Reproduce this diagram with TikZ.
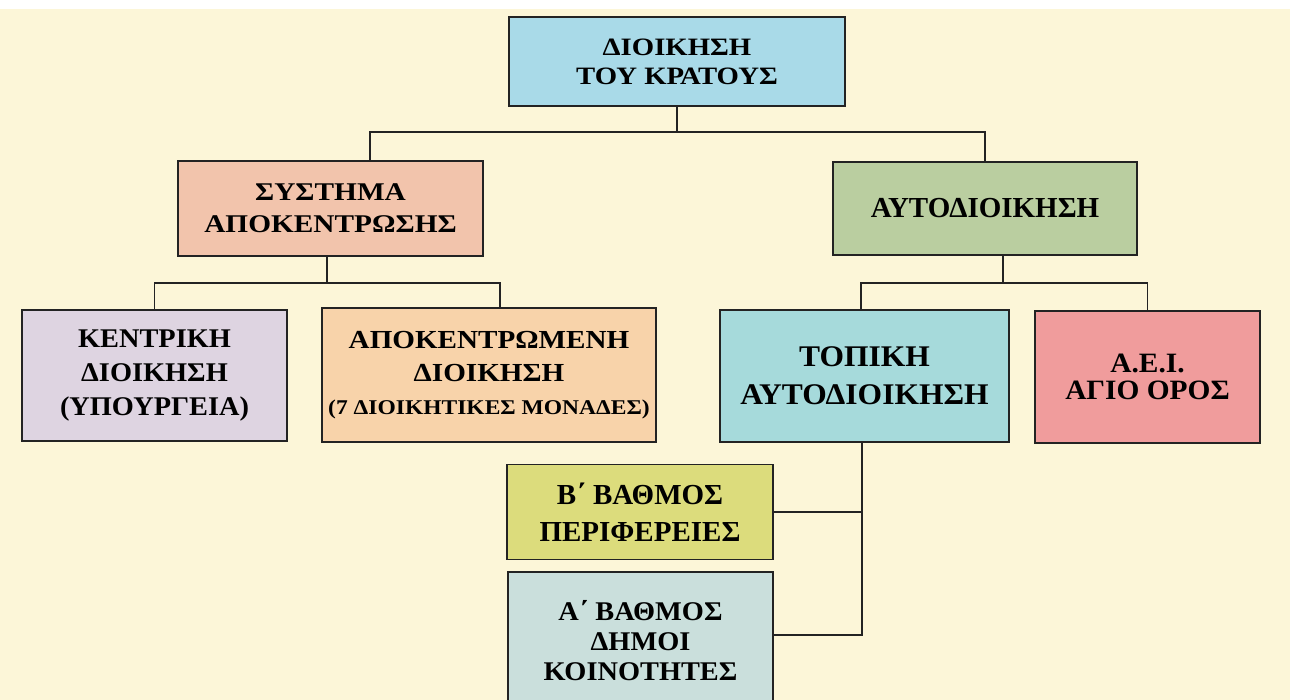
\documentclass[tikz,border=0pt]{standalone}
\usepackage{fontspec}
\setmainfont{Liberation Serif}
\newfontfamily\sfifteen{Liberation Serif}[FakeStretch=1.15]
\newfontfamily\stwelve{Liberation Serif}[FakeStretch=1.12]
\newfontfamily\sfive{Liberation Serif}[FakeStretch=1.05]
\newfontfamily\szero{Liberation Serif}
\definecolor{bgcream}{RGB}{252,246,216}
\definecolor{ctop}{RGB}{169,218,232}
\definecolor{csys}{RGB}{242,196,172}
\definecolor{cauto}{RGB}{186,206,160}
\definecolor{ckent}{RGB}{222,212,225}
\definecolor{capok}{RGB}{248,211,170}
\definecolor{ctopi}{RGB}{166,218,219}
\definecolor{caei}{RGB}{240,156,156}
\definecolor{cbv}{RGB}{220,220,124}
\definecolor{cav}{RGB}{202,223,220}
\definecolor{edge}{RGB}{35,35,35}
\tikzset{
  box/.style={draw=edge, line width=1.9pt, rectangle, inner sep=0pt, align=center, text=black},
  link/.style={draw=edge, line width=1.8pt},
}
\newcommand{\fs}[3]{#1\fontsize{#2}{#3}\selectfont\bfseries}
\begin{document}
\begin{tikzpicture}[x=1pt,y=-1pt]
\useasboundingbox (0,0) rectangle (1290,700);
\fill[bgcream] (0,0) rectangle (1290,700);
\fill[white] (0,0) rectangle (1290,9);
\begin{scope}
\clip (0,0) rectangle (1290,700);
\node[box, fill=ctop, minimum width=336pt, minimum height=89pt, font=\fs{\sfifteen}{25}{29}] (top) at (677,61.5) {ΔΙΟΙΚΗΣΗ\\ΤΟΥ ΚΡΑΤΟΥΣ};
\node[box, fill=csys, minimum width=305pt, minimum height=95pt, font=\fs{\sfifteen}{25.5}{32}] (sys) at (330.5,208.5) {ΣΥΣΤΗΜΑ\\ΑΠΟΚΕΝΤΡΩΣΗΣ};
\node[box, fill=cauto, minimum width=304pt, minimum height=93pt, font=\fs{\szero}{29}{34}] (auto) at (985,208.5) {ΑΥΤΟΔΙΟΙΚΗΣΗ};
\node[box, fill=ckent, minimum width=265pt, minimum height=131pt, font=\fs{\sfive}{27}{34}] (kent) at (154.5,375.5) {ΚΕΝΤΡΙΚΗ\\ΔΙΟΙΚΗΣΗ\\(ΥΠΟΥΡΓΕΙΑ)};
\node[box, fill=capok, minimum width=334pt, minimum height=134pt, font=\fs{\stwelve}{26}{33}] (apok) at (489,375) {ΑΠΟΚΕΝΤΡΩΜΕΝΗ\\ΔΙΟΙΚΗΣΗ\\{\fontsize{21}{33}\selectfont(7 ΔΙΟΙΚΗΤΙΚΕΣ ΜΟΝΑΔΕΣ)}};
\node[box, fill=ctopi, minimum width=289pt, minimum height=132pt, font=\fs{\sfive}{30}{38}] (topiki) at (864.5,376) {ΤΟΠΙΚΗ\\ΑΥΤΟΔΙΟΙΚΗΣΗ};
\node[box, fill=caei, minimum width=225pt, minimum height=132pt, font=\fs{\sfive}{28}{27}] (aei) at (1147.5,377) {Α.Ε.Ι.\\ΑΓΙΟ ΟΡΟΣ};
\node[box, fill=cbv, minimum width=266pt, minimum height=95pt, font=\fs{\szero}{29}{37}] (bv) at (640,512) {Β΄ ΒΑΘΜΟΣ\\ΠΕΡΙΦΕΡΕΙΕΣ};
\node[box, fill=cav, minimum width=265pt, minimum height=138pt, font=\fs{\sfive}{27}{30}] (av) at (640.5,641) {Α΄ ΒΑΘΜΟΣ\\ΔΗΜΟΙ\\ΚΟΙΝΟΤΗΤΕΣ};
\end{scope}
% junctions
\coordinate (j0) at (677,132);
\coordinate (j1) at (327,283);
\coordinate (j2) at (1003,283);
\coordinate (j3) at (862,635);
% connectors
\draw[link] (top.south) -- (j0);
\draw[link] ([xshift=39.5pt]sys.north) |- (j0) -| (auto.north);
\draw[link] ([xshift=-3.5pt]sys.south) -- (j1);
\draw[link] (kent.north) |- (j1) -| ([xshift=11pt]apok.north);
\draw[link] ([xshift=18pt]auto.south) -- (j2);
\draw[link] ([xshift=-3.5pt]topiki.north) |- (j2) -| (aei.north);
\draw[link] ([xshift=-2.5pt]topiki.south) -- (j3) -- (j3 -| av.east);
\draw[link] (bv.east) -- (bv.east -| j3);
\end{tikzpicture}
\end{document}
